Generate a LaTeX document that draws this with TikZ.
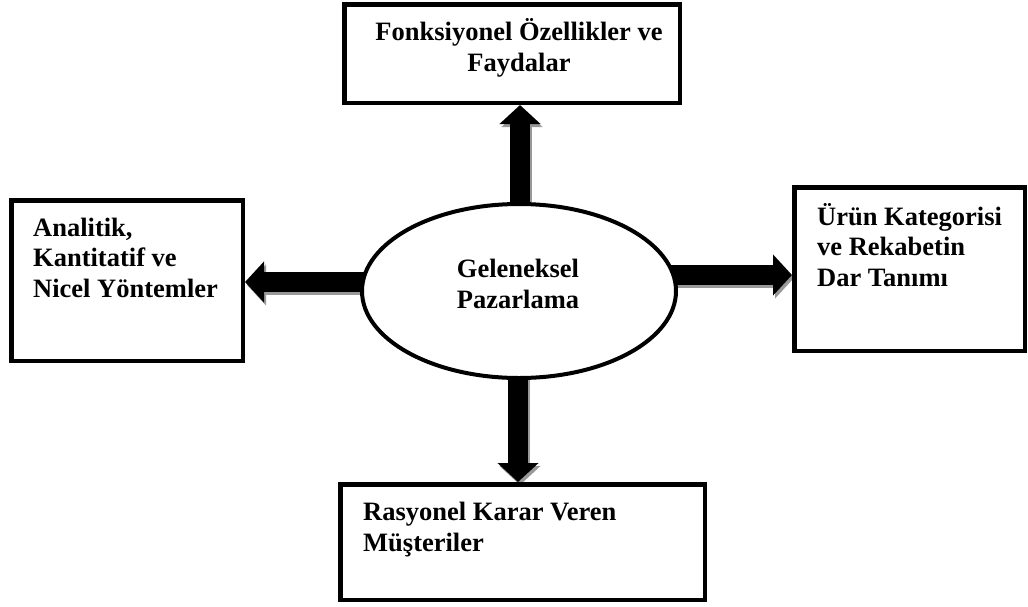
\documentclass[tikz,border=0pt]{standalone}
\usepackage{fontspec}
\setmainfont{Liberation Serif}
\usetikzlibrary{arrows.meta,shapes.geometric,backgrounds}
\begin{document}
\begin{tikzpicture}[x=1pt,y=-1pt,
  box/.style={draw, line width=4.5pt, inner sep=0pt, fill=white},
  hub/.style={ellipse, draw, line width=4pt, inner sep=0pt, fill=white,
              minimum width=314pt, minimum height=174pt},
  lbl/.style={font=\fontsize{26.5}{30.5}\selectfont\bfseries, inner sep=0pt},
  bigarrow/.style={line width=20pt, -{Triangle[width=40pt,length=19pt]}},
  shade/.style={bigarrow, draw=black!40,
                transform canvas={xshift=2pt,yshift=-3pt}}
]
\useasboundingbox (0,0) rectangle (1028,606);

% boxes
\node[box, minimum width=335.5pt, minimum height=98.5pt]  (top)    at (512,53.5)  {};
\node[box, minimum width=231.5pt, minimum height=160.5pt] (left)   at (127,280.5) {};
\node[box, minimum width=230.5pt, minimum height=163.5pt] (right)  at (909.5,269) {};
\node[box, minimum width=364.5pt, minimum height=115.5pt] (bottom) at (522.5,542) {};

% central ellipse
\node[hub] (ell) at (519,291) {};

% box texts (placed by the baseline of their last line)
\node[lbl, align=center, anchor=base] (ttop) at (519,71)
  {Fonksiyonel Özellikler ve\\Faydalar};
\node[lbl, align=left, anchor=base west] (tleft) at (33,297)
  {Analitik,\\Kantitatif ve\\Nicel Yöntemler};
\node[lbl, align=left, anchor=base west] (tright) at (817,286)
  {Ürün Kategorisi\\ve Rekabetin\\Dar Tanımı};
\node[lbl, align=left, anchor=base west] (tbottom) at (363,551)
  {Rasyonel Karar Veren\\Müşteriler};
\node[lbl, align=center, anchor=base] (tell) at (518,308)
  {Geleneksel\\Pazarlama};

% arrow lanes
\coordinate (nx) at (520,0);
\coordinate (sx) at (518,0);
\coordinate (wy) at (0,282);
\coordinate (ey) at (0,275);

\begin{pgfonlayer}{background}
  \draw[shade] (ell.center -| nx) -- (nx |- top.south);
  \draw[shade] (ell.center -| sx) -- (sx |- bottom.north);
  \draw[shade] (ell.center |- wy) -- (left.east |- wy);
  \draw[shade] (ell.center |- ey) -- (right.west |- ey);
  \draw[bigarrow] (ell.center -| nx) -- (nx |- top.south);
  \draw[bigarrow] (ell.center -| sx) -- (sx |- bottom.north);
  \draw[bigarrow] (ell.center |- wy) -- (left.east |- wy);
  \draw[bigarrow] (ell.center |- ey) -- (right.west |- ey);
\end{pgfonlayer}
\end{tikzpicture}
\end{document}
